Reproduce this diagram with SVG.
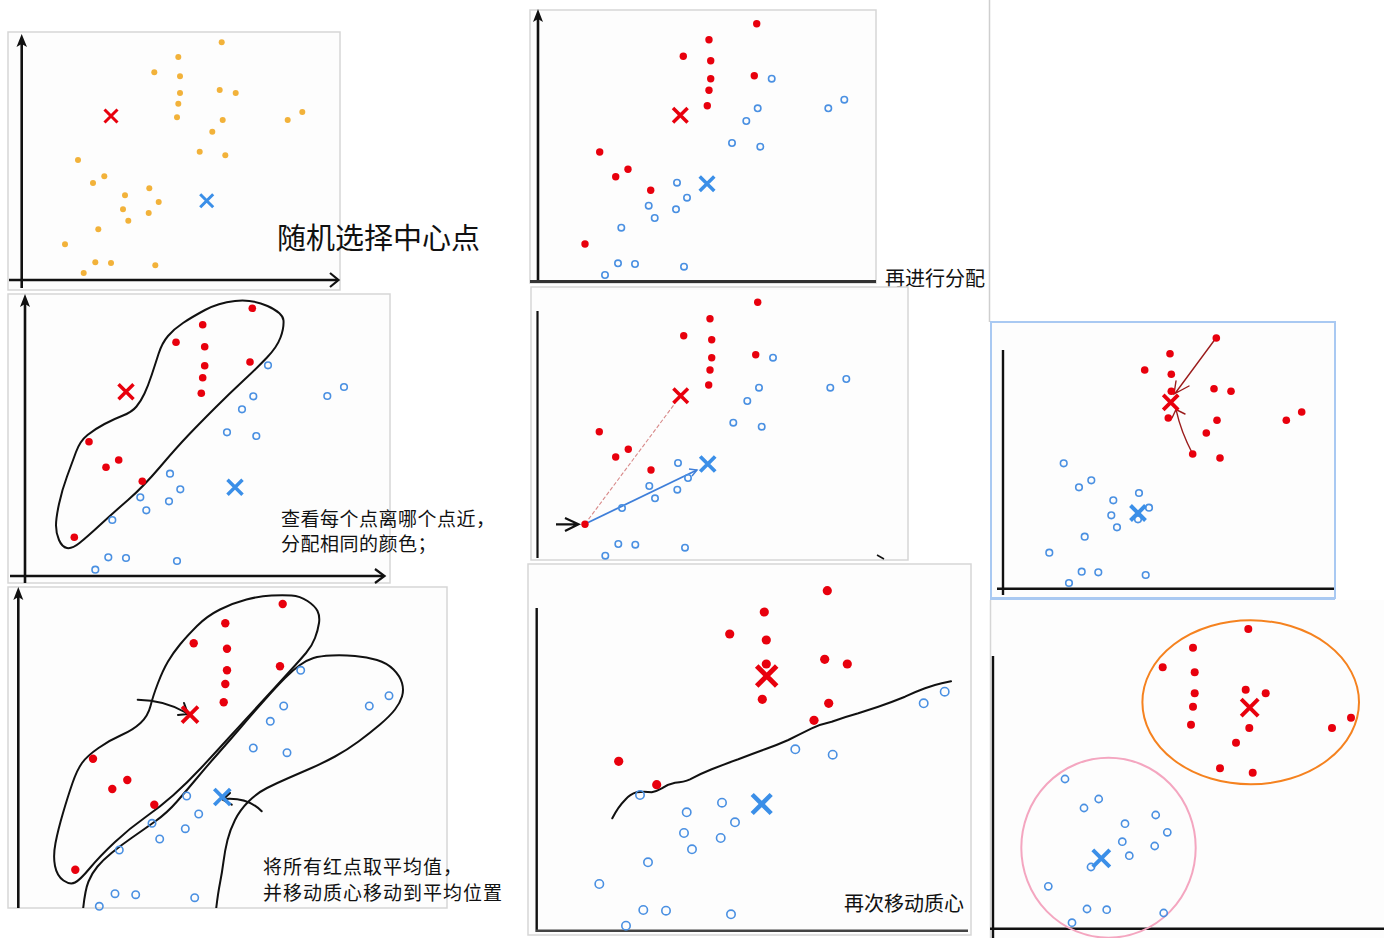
<svg xmlns="http://www.w3.org/2000/svg" width="1384" height="938" viewBox="0 0 1384 938">
<style>
.frame{fill:#fdfdfd;stroke:#d6d6d6;stroke-width:1.5}
.ax{stroke:#111;stroke-width:2.6;fill:none}
.ah{fill:#111}
.chev{fill:none;stroke:#111;stroke-width:2.2;stroke-linejoin:miter}
.r{fill:#e8000d}
.b{fill:none;stroke:#4a90e2;stroke-width:1.6}
.y{fill:#f2b23a}
.xr{stroke:#e8000d;fill:none}
.xb{stroke:#3b8fe8;fill:none}
.loop{fill:none;stroke:#111;stroke-width:2;stroke-linejoin:round;stroke-linecap:round}
.dr{fill:none;stroke:#9b1c1c;stroke-width:1.4;stroke-linecap:round}
.t{font-family:"Noto Sans CJK SC","Noto Sans",sans-serif;fill:#111}
</style>
<defs>
<clipPath id="c6"><rect x="8" y="587" width="439" height="321"/></clipPath>
<clipPath id="c8"><rect x="990" y="600" width="394" height="338"/></clipPath>
</defs>
<rect width="1384" height="938" fill="#ffffff"/>
<line x1="989.5" y1="0" x2="989.5" y2="322" stroke="#cfcfcf" stroke-width="1.5"/>

<g id="panel1">
<rect class="frame" x="8" y="32" width="332" height="258"/>
<line class="ax" x1="21.7" y1="40" x2="21.7" y2="288"/>
<path class="ah" d="M21.7,34 L16.5,47 L21.7,44 L27,47 Z"/>
<line class="ax" x1="9" y1="280" x2="337" y2="280"/>
<path class="chev" d="M330,273 L338.5,280 L330,287"/>
<g class="y">
<circle cx="221.7" cy="42.3" r="3"/><circle cx="178.3" cy="57" r="3"/><circle cx="154.3" cy="72.3" r="3"/>
<circle cx="180" cy="76.3" r="3"/><circle cx="180" cy="93" r="3"/><circle cx="219.7" cy="90" r="3"/>
<circle cx="235.7" cy="93" r="3"/><circle cx="178.3" cy="103.7" r="3"/><circle cx="177" cy="117.3" r="3"/>
<circle cx="222.7" cy="120" r="3"/><circle cx="302.3" cy="112" r="3"/><circle cx="287.7" cy="120" r="3"/>
<circle cx="212.3" cy="131.7" r="3"/><circle cx="199.7" cy="151.7" r="3"/><circle cx="225.3" cy="155.3" r="3"/>
<circle cx="78" cy="160" r="3"/><circle cx="104.3" cy="176.3" r="3"/><circle cx="93" cy="183" r="3"/>
<circle cx="149.3" cy="188.3" r="3"/><circle cx="125" cy="195.3" r="3"/><circle cx="158.7" cy="202" r="3"/>
<circle cx="123" cy="209.3" r="3"/><circle cx="148.7" cy="213" r="3"/><circle cx="128.3" cy="220.7" r="3"/>
<circle cx="98.3" cy="229.3" r="3"/><circle cx="65" cy="244.3" r="3"/><circle cx="95.3" cy="262.3" r="3"/>
<circle cx="111" cy="263" r="3"/><circle cx="155.3" cy="265.3" r="3"/><circle cx="83.7" cy="273" r="3"/>
</g>
<path class="xr" stroke-width="3" d="M104.5,109.5 L117.5,122.5 M117.5,109.5 L104.5,122.5"/>
<path class="xb" stroke-width="3" d="M200.2,194.2 L213.2,207.2 M213.2,194.2 L200.2,207.2"/>
<text class="t" x="277" y="249" font-size="29">随机选择中心点</text>
</g>

<g id="panel2">
<rect class="frame" x="530" y="10" width="346" height="273"/>
<line class="ax" x1="538" y1="16" x2="538" y2="283"/>
<path class="ah" d="M538,9 L533,22 L538,19 L543,22 Z"/>
<line x1="530" y1="281.5" x2="876" y2="281.5" stroke="#333" stroke-width="3"/>
<g class="r">
<circle cx="756.7" cy="23.7" r="3.7"/><circle cx="709" cy="39.7" r="3.7"/><circle cx="683.3" cy="56.3" r="3.7"/>
<circle cx="710.7" cy="60.7" r="3.7"/><circle cx="710.7" cy="78.7" r="3.7"/><circle cx="754.3" cy="75.7" r="3.7"/>
<circle cx="709" cy="90.3" r="3.7"/><circle cx="707.3" cy="105.7" r="3.7"/><circle cx="599.7" cy="152" r="3.7"/>
<circle cx="628" cy="169.3" r="3.7"/><circle cx="615.7" cy="176.7" r="3.7"/><circle cx="650.7" cy="190.3" r="3.7"/>
<circle cx="585" cy="244" r="3.7"/>
</g>
<g class="b">
<circle cx="771.7" cy="78.7" r="3.2"/><circle cx="757.7" cy="108.3" r="3.2"/><circle cx="746.3" cy="121" r="3.2"/>
<circle cx="828.3" cy="108.3" r="3.2"/><circle cx="844.3" cy="99.7" r="3.2"/><circle cx="732" cy="143" r="3.2"/>
<circle cx="760.3" cy="146.7" r="3.2"/><circle cx="677" cy="182.7" r="3.2"/><circle cx="687" cy="197.7" r="3.2"/>
<circle cx="648.7" cy="205.7" r="3.2"/><circle cx="676" cy="209.3" r="3.2"/><circle cx="654.7" cy="218" r="3.2"/>
<circle cx="621.3" cy="227.7" r="3.2"/><circle cx="618" cy="263.3" r="3.2"/><circle cx="635" cy="264" r="3.2"/>
<circle cx="684" cy="266.7" r="3.2"/><circle cx="605" cy="275" r="3.2"/>
</g>
<path class="xr" stroke-width="3.5" d="M673,108 L687.6,122.6 M687.6,108 L673,122.6"/>
<path class="xb" stroke-width="3.5" d="M699.7,176.4 L714.3,191 M714.3,176.4 L699.7,191"/>
<text class="t" x="885" y="286" font-size="20">再进行分配</text>
</g>

<g id="panel3">
<rect class="frame" x="8" y="294" width="382" height="289"/>
<line class="ax" x1="25" y1="300" x2="25" y2="583"/>
<path class="ah" d="M25,294 L20,307 L25,304 L30,307 Z"/>
<line class="ax" x1="10" y1="576" x2="384" y2="576"/>
<path class="chev" d="M375,569 L384.5,576 L375,583"/>
<path class="loop" d="M235,301 Q252,299 267.5,306 Q283,313 283.5,320.5 Q284,328 280.5,337.5 Q277,347 267,357.5 Q257,368 243.5,380.5 Q230,393 215,408 Q200,423 188.5,435 Q177,447 160,467 Q143,487 128,500 Q113,513 100,525 Q87,537 79.5,543 Q72,549 67,548 Q62,547 59,540 Q56,533 56,525.5 Q56,518 59,504 Q62,490 67,476.5 Q72,463 76,452 Q80,441 87.5,435 Q95,429 104.5,424 Q114,419 123,415.5 Q132,412 136.5,406.5 Q141,401 144.5,393.5 Q148,386 151.5,375.5 Q155,365 158.5,354 Q162,343 168,336 Q174,329 183,323 Q192,317 205,310 Q218,303 235,301 Z"/>
<g class="r">
<circle cx="252.3" cy="308.3" r="3.8"/><circle cx="202.7" cy="324.7" r="3.8"/><circle cx="176" cy="342.3" r="3.8"/>
<circle cx="204.7" cy="346.7" r="3.8"/><circle cx="204.7" cy="365.7" r="3.8"/><circle cx="250" cy="362" r="3.8"/>
<circle cx="202.7" cy="377.7" r="3.8"/><circle cx="201.3" cy="393.3" r="3.8"/><circle cx="89" cy="441.7" r="3.8"/>
<circle cx="118.7" cy="460" r="3.8"/><circle cx="106" cy="467.3" r="3.8"/><circle cx="142.3" cy="481.3" r="3.8"/>
<circle cx="74.3" cy="537.3" r="3.8"/>
</g>
<g class="b">
<circle cx="268" cy="365.3" r="3.3"/><circle cx="253.3" cy="396.3" r="3.3"/><circle cx="242" cy="409.3" r="3.3"/>
<circle cx="327.3" cy="396" r="3.3"/><circle cx="344" cy="387" r="3.3"/><circle cx="227" cy="432.3" r="3.3"/>
<circle cx="256.3" cy="436" r="3.3"/><circle cx="170" cy="473.7" r="3.3"/><circle cx="180.3" cy="489.3" r="3.3"/>
<circle cx="140.3" cy="497.3" r="3.3"/><circle cx="169" cy="501.3" r="3.3"/><circle cx="146.3" cy="510.3" r="3.3"/>
<circle cx="112.3" cy="520" r="3.3"/><circle cx="108.3" cy="557.3" r="3.3"/><circle cx="126" cy="558" r="3.3"/>
<circle cx="177" cy="561" r="3.3"/><circle cx="95.3" cy="569.7" r="3.3"/>
</g>
<path class="xr" stroke-width="3.5" d="M118.5,384.2 L133.5,399.2 M133.5,384.2 L118.5,399.2"/>
<path class="xb" stroke-width="3.5" d="M227.5,479.8 L242.5,494.8 M242.5,479.8 L227.5,494.8"/>
<text class="t" x="281" y="526" font-size="19" letter-spacing="0.5">查看每个点离哪个点近，</text>
<text class="t" x="281" y="551" font-size="19" letter-spacing="0.5">分配相同的颜色；</text>
</g>

<g id="panel4">
<rect class="frame" x="531" y="287" width="377" height="273"/>
<line x1="537.5" y1="311" x2="537.5" y2="558" stroke="#111" stroke-width="2.2"/>
<path d="M877,555 L884,559" stroke="#111" stroke-width="1.5"/>
<line x1="585" y1="524" x2="676" y2="402" stroke="#d88a8a" stroke-width="1.1" stroke-dasharray="4,2"/>
<line x1="585" y1="524" x2="697" y2="470" stroke="#3f7fd9" stroke-width="1.8"/>
<path d="M689,469 L697,470 L692,476" fill="none" stroke="#3f7fd9" stroke-width="1.4"/>
<path class="chev" stroke-width="1.6" d="M556,524.3 L578.5,524.3 M565,518 L578.5,524.3 L565,531"/>
<g class="r">
<circle cx="757.7" cy="302.3" r="3.7"/><circle cx="710" cy="318.7" r="3.7"/><circle cx="683.7" cy="335.7" r="3.7"/>
<circle cx="711.7" cy="339.7" r="3.7"/><circle cx="711.7" cy="357.7" r="3.7"/><circle cx="755.7" cy="354.7" r="3.7"/>
<circle cx="710" cy="370" r="3.7"/><circle cx="708.7" cy="385" r="3.7"/><circle cx="599.3" cy="431.7" r="3.7"/>
<circle cx="628.3" cy="449.3" r="3.7"/><circle cx="615.7" cy="457" r="3.7"/><circle cx="651" cy="470" r="3.7"/>
<circle cx="585" cy="524.3" r="3.7"/>
</g>
<g class="b">
<circle cx="773" cy="357.7" r="3.2"/><circle cx="759" cy="387.7" r="3.2"/><circle cx="747.3" cy="401" r="3.2"/>
<circle cx="830.3" cy="387.7" r="3.2"/><circle cx="846.3" cy="379" r="3.2"/><circle cx="733.3" cy="422.7" r="3.2"/>
<circle cx="761.7" cy="426.7" r="3.2"/><circle cx="678" cy="463" r="3.2"/><circle cx="688" cy="478" r="3.2"/>
<circle cx="649.3" cy="486" r="3.2"/><circle cx="677.3" cy="489.7" r="3.2"/><circle cx="655" cy="498.3" r="3.2"/>
<circle cx="622" cy="508" r="3.2"/><circle cx="618.3" cy="544" r="3.2"/><circle cx="635.3" cy="544.7" r="3.2"/>
<circle cx="685" cy="547.7" r="3.2"/><circle cx="605.3" cy="555.7" r="3.2"/>
</g>
<path class="xr" stroke-width="3.5" d="M673.4,388.4 L688,403 M688,388.4 L673.4,403"/>
<path class="xb" stroke-width="3.8" d="M700.2,456.5 L715.2,471.5 M715.2,456.5 L700.2,471.5"/>
</g>

<g id="panel5">
<rect x="991" y="322" width="344" height="276" fill="#fdfdfd" stroke="#a9c9f2" stroke-width="2"/>
<line x1="1003" y1="350" x2="1003" y2="595" stroke="#111" stroke-width="2.4"/>
<line x1="997" y1="588.7" x2="1334" y2="588.7" stroke="#111" stroke-width="2.4"/>
<path class="dr" d="M1216,338 L1175,393.5 M1176,381 L1174,394 L1189,386"/>
<path class="dr" d="M1192.7,454 Q1181,432 1176.3,410.7 M1172,418 L1176,409.5 L1185,414"/>
<g class="r">
<circle cx="1216.3" cy="338" r="3.8"/><circle cx="1170" cy="353.7" r="3.8"/><circle cx="1144.7" cy="370" r="3.8"/>
<circle cx="1171.3" cy="374.3" r="3.8"/><circle cx="1171.3" cy="391.3" r="3.8"/><circle cx="1214" cy="388.7" r="3.8"/>
<circle cx="1231" cy="391.3" r="3.8"/><circle cx="1168.3" cy="418" r="3.8"/><circle cx="1217" cy="420.3" r="3.8"/>
<circle cx="1206.3" cy="433" r="3.8"/><circle cx="1286.3" cy="420.3" r="3.8"/><circle cx="1301.7" cy="412" r="3.8"/>
<circle cx="1192.7" cy="454" r="3.8"/><circle cx="1220" cy="458" r="3.8"/>
</g>
<g class="b">
<circle cx="1063.7" cy="463.3" r="3.3"/><circle cx="1091.3" cy="480.3" r="3.3"/><circle cx="1079" cy="487.3" r="3.3"/>
<circle cx="1139" cy="493" r="3.3"/><circle cx="1113.3" cy="500.3" r="3.3"/><circle cx="1149" cy="507.7" r="3.3"/>
<circle cx="1111.3" cy="515.3" r="3.3"/><circle cx="1138" cy="519.3" r="3.3"/><circle cx="1117" cy="527.3" r="3.3"/>
<circle cx="1084.7" cy="536.7" r="3.3"/><circle cx="1049.3" cy="552.7" r="3.3"/><circle cx="1081.7" cy="571.7" r="3.3"/>
<circle cx="1098.3" cy="572.3" r="3.3"/><circle cx="1145.7" cy="575" r="3.3"/><circle cx="1069" cy="583" r="3.3"/>
</g>
<path class="xr" stroke-width="3.8" d="M1163.2,394.8 L1178.2,409.8 M1178.2,394.8 L1163.2,409.8"/>
<path class="xb" stroke-width="4" d="M1130.5,505.5 L1145.5,520.5 M1145.5,505.5 L1130.5,520.5"/>
</g>

<g id="panel6">
<rect class="frame" x="8" y="587" width="439" height="321"/>
<line class="ax" x1="18.3" y1="594" x2="18.3" y2="908"/>
<path class="ah" d="M18.3,587 L13.3,600 L18.3,597 L23.3,600 Z"/>
<g clip-path="url(#c6)">
<path class="loop" d="M271.5,595.5 Q283,595 291.5,595.5 Q300,596 307.5,601 Q315,606 317.5,611 Q320,616 319,623 Q318,630 315,638 Q312,646 306,653 Q300,660 295,665.5 Q290,671 280,682 Q270,693 257.5,706.5 Q245,720 230,736.5 Q215,753 201,768 Q187,783 173.5,795 Q160,807 145,817.5 Q130,828 115,842 Q100,856 90,868 Q80,880 75,882.5 Q70,885 63.5,880.5 Q57,876 55,866 Q53,856 55.5,843 Q58,830 63,813 Q68,796 72.5,783 Q77,770 82,763 Q87,756 98.5,748 Q110,740 121.5,735 Q133,730 140.5,723 Q148,716 150.5,706 Q153,696 158,683 Q163,670 168,661.5 Q173,653 180,644.5 Q187,636 197,626 Q207,616 220,609.5 Q233,603 246.5,599.5 Q260,596 271.5,595.5 Z"/>
<path class="loop" d="M83,910 Q85,890 88.5,881.5 Q92,873 97.5,866.5 Q103,860 111.5,853 Q120,846 131.5,838 Q143,830 155,821.5 Q167,813 177,801.5 Q187,790 197,778 Q207,766 218.5,753 Q230,740 241.5,726.5 Q253,713 265,699.5 Q277,686 285,678 Q293,670 300,665 Q307,660 313.5,658 Q320,656 331.5,655.5 Q343,655 355,656 Q367,657 377,660 Q387,663 393.5,669.5 Q400,676 402,683 Q404,690 402,696.5 Q400,703 395,709.5 Q390,716 380,724.5 Q370,733 358.5,741.5 Q347,750 335,756.5 Q323,763 311.5,768 Q300,773 288.5,778 Q277,783 267,788 Q257,793 248.5,801.5 Q240,810 235,820 Q230,830 227.5,840 Q225,850 223.5,861.5 Q222,873 220,883 Q218,893 216,910"/>
</g>
<path class="loop" stroke-width="1.8" d="M137.7,699.7 Q165,700 186.7,713 M184,703 L188,714 L178,715"/>
<path class="loop" stroke-width="1.8" d="M261.7,811.3 Q248,797 224,799 M230,793 L222.7,799.7 L231.7,804.7"/>
<g class="r">
<circle cx="282.7" cy="604" r="4.2"/><circle cx="225.3" cy="623.3" r="4.2"/><circle cx="193.7" cy="643.3" r="4.2"/>
<circle cx="227" cy="648.7" r="4.2"/><circle cx="227" cy="670.3" r="4.2"/><circle cx="280" cy="666.3" r="4.2"/>
<circle cx="225.3" cy="684" r="4.2"/><circle cx="223.7" cy="702.3" r="4.2"/><circle cx="93" cy="758.7" r="4.2"/>
<circle cx="127.3" cy="780" r="4.2"/><circle cx="112.3" cy="789" r="4.2"/><circle cx="154.3" cy="804.7" r="4.2"/>
<circle cx="75.3" cy="869.7" r="4.2"/>
</g>
<g class="b">
<circle cx="300.7" cy="670.3" r="3.7"/><circle cx="283.7" cy="706" r="3.7"/><circle cx="270.3" cy="721.3" r="3.7"/>
<circle cx="369.3" cy="706" r="3.7"/><circle cx="389" cy="695.7" r="3.7"/><circle cx="253.3" cy="748" r="3.7"/>
<circle cx="287" cy="752.7" r="3.7"/><circle cx="186.7" cy="796" r="3.7"/><circle cx="198.7" cy="814" r="3.7"/>
<circle cx="152" cy="823.3" r="3.7"/><circle cx="185.3" cy="828.7" r="3.7"/><circle cx="159.7" cy="839" r="3.7"/>
<circle cx="119.3" cy="850" r="3.7"/><circle cx="115" cy="893.7" r="3.7"/><circle cx="135.7" cy="894.7" r="3.7"/>
<circle cx="194.7" cy="897.7" r="3.7"/><circle cx="99.3" cy="906.3" r="3.7"/>
</g>
<path class="xr" stroke-width="3.8" d="M182,706.7 L198,722.7 M198,706.7 L182,722.7"/>
<path class="xb" stroke-width="3.8" d="M214.3,789 L230.3,805 M230.3,789 L214.3,805"/>
<text class="t" x="263" y="874" font-size="19" letter-spacing="1">将所有红点取平均值，</text>
<text class="t" x="263" y="900" font-size="19" letter-spacing="1">并移动质心移动到平均位置</text>
</g>

<g id="panel7">
<rect class="frame" x="528" y="564" width="443" height="371"/>
<line x1="536.7" y1="608" x2="536.7" y2="932" stroke="#111" stroke-width="2.4"/>
<line x1="536" y1="930.7" x2="968" y2="930.7" stroke="#444" stroke-width="2.4"/>
<path class="loop" d="M612.3,818.3 Q618,807 625,800 Q630,794 636.7,792.3 Q644,791 651.7,792.3 Q657,791 661.7,788.3 Q668,784 675,782.7 Q684,782 690,779.3 Q700,774 711.7,769.3 Q725,764 738.3,759.3 Q752,754 765,749.3 Q777,745 788.3,740 Q800,734 811.7,728.3 Q821,724 831.7,721.7 Q845,717 858.3,713.3 Q868,710 878.3,706.7 Q892,702 905,696.7 Q915,692 925,688.3 Q934,685 941.7,683.3 L951,681.3"/>
<g class="r">
<circle cx="827.3" cy="590.7" r="4.6"/><circle cx="764.3" cy="612" r="4.6"/><circle cx="729.7" cy="634" r="4.6"/>
<circle cx="766.3" cy="640" r="4.6"/><circle cx="766.3" cy="664" r="4.6"/><circle cx="824.7" cy="659.3" r="4.6"/>
<circle cx="847.3" cy="664" r="4.6"/><circle cx="762.3" cy="699.3" r="4.6"/><circle cx="828.7" cy="703.3" r="4.6"/>
<circle cx="814" cy="720.3" r="4.6"/><circle cx="618.7" cy="761.3" r="4.6"/><circle cx="656.7" cy="784.7" r="4.6"/>
</g>
<g class="b" stroke-width="1.8">
<circle cx="944.7" cy="691.7" r="4.2"/><circle cx="923.7" cy="703.3" r="4.2"/><circle cx="795.3" cy="749.3" r="4.2"/>
<circle cx="832.7" cy="754.7" r="4.2"/><circle cx="640" cy="795" r="4.2"/><circle cx="722" cy="802.7" r="4.2"/>
<circle cx="686.7" cy="812.3" r="4.2"/><circle cx="735" cy="822.3" r="4.2"/><circle cx="684" cy="833" r="4.2"/>
<circle cx="720.7" cy="838" r="4.2"/><circle cx="692" cy="849.3" r="4.2"/><circle cx="648" cy="862.3" r="4.2"/>
<circle cx="599.3" cy="884" r="4.2"/><circle cx="643.3" cy="910" r="4.2"/><circle cx="666" cy="910.7" r="4.2"/>
<circle cx="731" cy="914.3" r="4.2"/><circle cx="626" cy="925.7" r="4.2"/>
</g>
<path class="xr" stroke-width="5" d="M756.7,666 L776.7,686 M776.7,666 L756.7,686"/>
<path class="xb" stroke-width="4.5" d="M752.2,794.5 L771.2,813.5 M771.2,794.5 L752.2,813.5"/>
<text class="t" x="844" y="911" font-size="20">再次移动质心</text>
</g>

<g id="panel8">
<rect x="990" y="600" width="394" height="338" fill="#fdfdfd"/>
<line x1="990" y1="599" x2="1335" y2="599" stroke="#a9c9f2" stroke-width="2"/>
<line x1="990.5" y1="600" x2="990.5" y2="938" stroke="#d6d6d6" stroke-width="1.5"/>
<line x1="993" y1="656" x2="993" y2="938" stroke="#111" stroke-width="2.4"/>
<line x1="990" y1="928.7" x2="1384" y2="928.7" stroke="#111" stroke-width="2.4"/>
<g clip-path="url(#c8)">
<ellipse cx="1250.7" cy="702.3" rx="108.3" ry="82" fill="none" stroke="#f5821f" stroke-width="2"/>
<ellipse cx="1108.5" cy="847.7" rx="87.2" ry="90" fill="none" stroke="#f4a6c0" stroke-width="2"/>
</g>
<g class="r">
<circle cx="1248.3" cy="629" r="4"/><circle cx="1193" cy="647.7" r="4"/><circle cx="1162.7" cy="667.3" r="4"/>
<circle cx="1194.7" cy="672.3" r="4"/><circle cx="1194.7" cy="693.3" r="4"/><circle cx="1245.7" cy="689.7" r="4"/>
<circle cx="1265.7" cy="693.3" r="4"/><circle cx="1193" cy="706.7" r="4"/><circle cx="1191" cy="724.7" r="4"/>
<circle cx="1249.3" cy="728" r="4"/><circle cx="1236" cy="742.7" r="4"/><circle cx="1332" cy="728" r="4"/>
<circle cx="1351" cy="717.7" r="4"/><circle cx="1220" cy="768.3" r="4"/><circle cx="1252.7" cy="772.7" r="4"/>
</g>
<g class="b">
<circle cx="1065" cy="779" r="3.6"/><circle cx="1098.7" cy="799" r="3.6"/><circle cx="1084" cy="808" r="3.6"/>
<circle cx="1155.7" cy="815" r="3.6"/><circle cx="1125" cy="823.7" r="3.6"/><circle cx="1167.3" cy="832.3" r="3.6"/>
<circle cx="1122.3" cy="841.7" r="3.6"/><circle cx="1154.7" cy="846" r="3.6"/><circle cx="1129.3" cy="855.7" r="3.6"/>
<circle cx="1091" cy="867" r="3.6"/><circle cx="1048.3" cy="886.3" r="3.6"/><circle cx="1087" cy="909" r="3.6"/>
<circle cx="1106.7" cy="909.7" r="3.6"/><circle cx="1163.7" cy="913" r="3.6"/><circle cx="1072" cy="922.7" r="3.6"/>
</g>
<path class="xr" stroke-width="4" d="M1241.2,699.2 L1258.2,716.2 M1258.2,699.2 L1241.2,716.2"/>
<path class="xb" stroke-width="4" d="M1092.8,849.8 L1109.8,866.8 M1109.8,849.8 L1092.8,866.8"/>
</g>
</svg>
